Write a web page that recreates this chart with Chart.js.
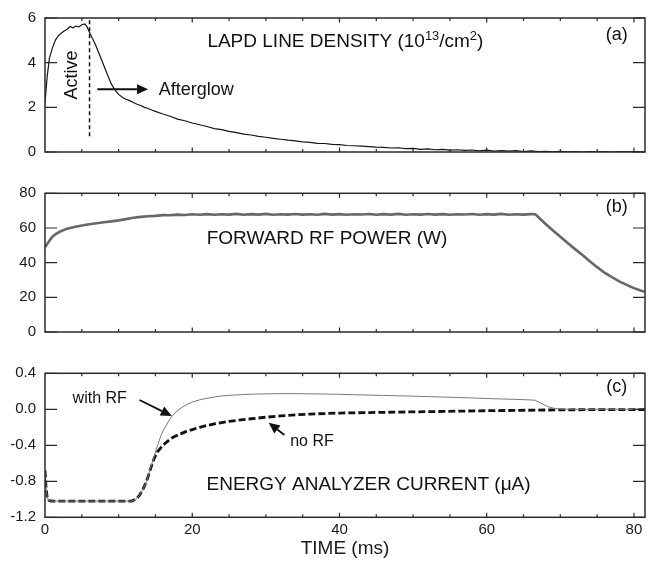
<!DOCTYPE html>
<html>
<head>
<meta charset="utf-8">
<script src="https://cdn.jsdelivr.net/npm/chart.js@4.4.1/dist/chart.umd.min.js"></script>
<style>
  html, body { margin: 0; padding: 0; background: #fff; }
  #wrap { position: relative; width: 654px; height: 563px; }
  canvas { position: absolute; left: 0; }
</style>
</head>
<body>
<div id="wrap">
  <canvas id="chartA" width="654" height="170" style="top:0px"></canvas>
  <canvas id="chartB" width="654" height="180" style="top:170px"></canvas>
  <canvas id="chartC" width="654" height="213" style="top:350px"></canvas>
</div>
<script>
// ---- data ----
const xLabelTicks = [0, 20, 40, 60, 80];
const densityTicks = [0, 2, 4, 6];
const powerTicks = [0, 20, 40, 60, 80];
const currentTicks = [-1.2, -0.8, -0.4, 0.0, 0.4];

// (a) line density, 10^13/cm^2
const densityTime = [0, 0.3, 0.6, 1.0, 1.4, 1.8, 2.2, 2.6, 3.0, 3.4, 3.8, 4.2, 4.6, 5.0, 5.4, 5.7,
  6.0, 6.4, 6.8, 7.2, 7.6, 8.0, 8.5, 9.0, 9.5, 10.0, 10.5, 11, 11.5, 12, 12.5, 13, 13.5, 14, 14.5, 15,
  16, 17, 18, 19, 20, 21, 22, 23, 24, 25, 26, 27, 28, 29, 30, 31, 32, 33, 34, 35, 36, 37, 38, 39, 40,
  41, 42, 43, 44, 45, 46, 47, 48, 49, 50, 51, 52, 53, 54, 55, 56, 57, 58, 59, 60, 61, 62, 63, 64, 65,
  66, 67, 68, 69, 70, 71, 72, 73, 74, 75, 76, 77, 78, 79, 80, 81, 81.5];
const densityValues = [2.2, 3.4, 4.2, 4.65, 5.0, 5.2, 5.32, 5.42, 5.5, 5.62, 5.56, 5.64, 5.6, 5.7, 5.73, 5.62,
  5.38, 5.12, 4.85, 4.52, 4.2, 3.86, 3.45, 3.05, 2.78, 2.58, 2.45, 2.36, 2.3, 2.22, 2.14, 2.08, 2.0, 1.95, 1.88, 1.82,
  1.7, 1.6, 1.47, 1.4, 1.3, 1.22, 1.14, 1.05, 1.0, 0.92, 0.87, 0.8, 0.76, 0.7, 0.66, 0.61, 0.57, 0.53, 0.5, 0.45, 0.43, 0.39, 0.38, 0.34, 0.33,
  0.29, 0.28, 0.26, 0.24, 0.22, 0.21, 0.18, 0.19, 0.15, 0.16, 0.12, 0.14, 0.1, 0.12, 0.08, 0.1, 0.07, 0.09, 0.05, 0.08, 0.04, 0.06, 0.04, 0.06, 0.02,
  0.05, 0.02, 0.03, 0.01, 0.03, 0.01, 0.02, 0.0, 0.02, 0.01, 0.02, 0.0, 0.02, 0.01, 0.02, 0.0, 0.02];

// (b) forward RF power, W
const powerTime = [0, 0.5, 1, 1.5, 2, 3, 4, 5, 6, 7, 8, 9, 10, 11, 12, 13, 14, 15, 16, 17, 18, 19, 20,
  21, 22, 23, 24, 25, 26, 27, 28, 29, 30, 31, 32, 33, 34, 35, 36, 37, 38, 39, 40, 41, 42, 43, 44, 45,
  46, 47, 48, 49, 50, 51, 52, 53, 54, 55, 56, 57, 58, 59, 60, 61, 62, 63, 64, 65, 66, 66.6,
  67, 68, 69, 70, 71, 72, 73, 74, 75, 76, 77, 78, 79, 80, 81, 81.5];
const powerValues = [48.9, 52.0, 55.0, 56.6, 57.8, 59.6, 60.6, 61.4, 62.1, 62.7, 63.3, 63.8, 64.4, 65.1, 65.9, 66.4, 66.8, 67.0, 67.4, 67.3, 67.7, 67.5, 67.9,
  67.6, 68.0, 67.6, 67.9, 67.7, 68.1, 67.6, 68.0, 67.7, 68.1, 67.6, 67.9, 67.7, 68.1, 67.7, 67.9, 67.6, 68.1, 67.7, 68.0, 67.6, 67.9, 67.8, 68.1, 67.6,
  68.0, 67.7, 68.1, 67.6, 67.9, 67.7, 68.1, 67.7, 68.0, 67.6, 67.9, 67.8, 68.1, 67.6, 68.0, 67.7, 68.1, 67.6, 67.9, 67.7, 68.0, 67.9,
  66.3, 62.3, 58.6, 54.9, 51.3, 47.8, 44.4, 40.8, 37.4, 34.2, 31.6, 29.2, 27.2, 25.3, 23.8, 23.2];

// (c) energy analyzer current, uA
const withRfTime = [0, 0.15, 0.3, 0.5, 0.8, 2, 4, 6, 8, 10, 11, 11.8, 12.3, 12.8, 13.3, 13.8, 14.3, 14.8,
  15.3, 15.8, 16.3, 16.8, 17.3, 17.8, 18.5, 19.2, 20, 21, 22, 23, 24, 25, 26, 28, 30, 32, 34, 36, 38, 40,
  42, 44, 46, 48, 50, 52, 54, 56, 58, 60, 62, 64, 66, 66.6, 67.2, 67.8, 68.5, 69.2, 70, 72, 74, 76, 78, 80, 81.5];
const withRfValues = [-0.68, -0.88, -0.98, -1.01, -1.02, -1.02, -1.02, -1.02, -1.02, -1.02, -1.02, -1.02, -1.0, -0.96, -0.89, -0.8, -0.66, -0.53,
  -0.4, -0.28, -0.2, -0.13, -0.07, -0.03, 0.015, 0.05, 0.08, 0.105, 0.122, 0.137, 0.148, 0.155, 0.16, 0.168, 0.172, 0.174, 0.174, 0.172, 0.17, 0.166,
  0.162, 0.158, 0.154, 0.15, 0.146, 0.141, 0.136, 0.131, 0.126, 0.12, 0.115, 0.11, 0.104, 0.1, 0.075, 0.048, 0.025, 0.01, 0.003, 0.0, 0.0, 0.001, 0.0, 0.0, 0.0];

const noRfTime = [0, 0.15, 0.3, 0.5, 0.8, 2, 4, 6, 8, 10, 11, 11.8, 12.3, 12.8, 13.3, 13.8, 14.3, 14.8,
  15.3, 15.8, 16.3, 16.8, 17.3, 17.8, 18.5, 19.2, 20, 21, 22, 23, 24, 25, 26, 28, 30, 32, 34, 36, 38, 40,
  44, 48, 52, 56, 60, 64, 68, 72, 76, 80, 81.5];
const noRfValues = [-0.68, -0.88, -0.98, -1.01, -1.02, -1.02, -1.02, -1.02, -1.02, -1.02, -1.02, -1.02, -1.0, -0.96, -0.89, -0.8, -0.67, -0.55,
  -0.47, -0.42, -0.38, -0.345, -0.315, -0.295, -0.27, -0.245, -0.225, -0.2, -0.18, -0.163, -0.148, -0.135, -0.124, -0.105, -0.088, -0.074, -0.062, -0.053, -0.047, -0.042,
  -0.036, -0.031, -0.026, -0.021, -0.016, -0.012, -0.008, -0.005, -0.004, -0.003, -0.003];

const X_MAX = 81.5;
const FONT = "'Liberation Sans', Arial, sans-serif";
Chart.defaults.font.family = FONT;
Chart.defaults.color = '#1a1a1a';

function toPoints(ts, vs) {
  return ts.map((t, i) => ({ x: t, y: vs[i] }));
}

// frame with inward ticks on all four sides
const frameTicks = {
  id: 'frameTicks',
  afterDatasetsDraw(chart) {
    const { ctx, chartArea: a, scales: { x, y } } = chart;
    ctx.save();
    ctx.strokeStyle = '#2a2a2a';
    ctx.lineWidth = 1.5;
    ctx.strokeRect(a.left, a.top, a.right - a.left, a.bottom - a.top);
    ctx.lineWidth = 1.2;
    ctx.beginPath();
    for (let t = 5; t < X_MAX; t += 5) {
      const px = x.getPixelForValue(t);
      const len = t % 20 === 0 ? 4.5 : 3;
      ctx.moveTo(px, a.top); ctx.lineTo(px, a.top + len);
      ctx.moveTo(px, a.bottom); ctx.lineTo(px, a.bottom - len);
    }
    y.ticks.forEach(tk => {
      const py = y.getPixelForValue(tk.value);
      ctx.moveTo(a.left, py); ctx.lineTo(a.left + 12, py);
      ctx.moveTo(a.right, py); ctx.lineTo(a.right - 12, py);
    });
    ctx.stroke();
    ctx.restore();
  }
};

function arrow(ctx, x1, y1, x2, y2, head, half) {
  const ang = Math.atan2(y2 - y1, x2 - x1);
  const bx = x2 - head * Math.cos(ang), by = y2 - head * Math.sin(ang);
  ctx.beginPath(); ctx.moveTo(x1, y1); ctx.lineTo(bx, by); ctx.stroke();
  ctx.beginPath();
  ctx.moveTo(x2, y2);
  ctx.lineTo(bx + half * Math.sin(ang), by - half * Math.cos(ang));
  ctx.lineTo(bx - half * Math.sin(ang), by + half * Math.cos(ang));
  ctx.closePath(); ctx.fill();
}

// text with superscript parts, centred on cx
function richText(ctx, parts, cx, baseY, size) {
  const supSize = size * 0.68;
  let w = 0;
  parts.forEach(p => {
    ctx.font = (p[1] ? supSize : size) + 'px ' + FONT;
    w += ctx.measureText(p[0]).width;
  });
  let x = cx - w / 2;
  ctx.textAlign = 'left';
  parts.forEach(p => {
    ctx.font = (p[1] ? supSize : size) + 'px ' + FONT;
    ctx.fillText(p[0], x, p[1] ? baseY - size * 0.36 : baseY);
    x += ctx.measureText(p[0]).width;
  });
}

function notesPlugin(draw) {
  return {
    id: 'notes',
    afterDraw(chart) {
      const { ctx, scales: { x, y } } = chart;
      ctx.save();
      ctx.fillStyle = '#111';
      ctx.strokeStyle = '#111';
      ctx.textBaseline = 'alphabetic';
      draw(ctx, t => x.getPixelForValue(t), v => y.getPixelForValue(v));
      ctx.restore();
    }
  };
}

function makePanel(id, datasets, yMin, yMax, yTicks, yFmt, padTop, showX, notes) {
  const xScale = {
    type: 'linear', min: 0, max: X_MAX, display: showX,
    grid: { display: false, drawTicks: false },
    border: { display: false }
  };
  if (showX) {
    Object.assign(xScale, {
      afterBuildTicks: s => { s.ticks = xLabelTicks.map(v => ({ value: v })); },
      afterFit: s => { s.height = 45.7; },
      ticks: { padding: 4, font: { size: 15 }, maxRotation: 0, autoSkip: false, callback: v => String(v) },
      title: { display: true, text: 'TIME (ms)', font: { size: 19 }, padding: { top: 0, bottom: 3 } }
    });
  }
  return new Chart(document.getElementById(id), {
    type: 'line',
    data: { datasets: datasets },
    options: {
      responsive: false,
      animation: false,
      parsing: true,
      layout: { padding: { left: 0, right: 9, top: padTop, bottom: showX ? 0 : 13 } },
      plugins: { legend: { display: false }, tooltip: { enabled: false } },
      elements: { point: { radius: 0 }, line: { tension: 0 } },
      scales: {
        x: xScale,
        y: {
          min: yMin, max: yMax,
          afterBuildTicks: s => { s.ticks = yTicks.map(v => ({ value: v })); },
          afterFit: s => { s.width = 45; },
          grid: { display: false, drawTicks: false },
          border: { display: false },
          ticks: { padding: 9, font: { size: 15 }, callback: yFmt }
        }
      }
    },
    plugins: [frameTicks, notesPlugin(notes)]
  });
}

// (a) line density
makePanel('chartA', [{
  data: toPoints(densityTime, densityValues),
  borderColor: '#151515', borderWidth: 1.2, fill: false
}], 0, 6, densityTicks, v => String(v), 14, false, (ctx, px, py) => {
  richText(ctx, [['LAPD LINE DENSITY (10', false], ['13', true], ['/cm', false], ['2', true], [')', false]],
    px(40.8), py(4.7), 19);
  ctx.font = '18px ' + FONT;
  ctx.textAlign = 'center';
  ctx.fillText('(a)', px(77.66), py(5.0));
  // active / afterglow boundary
  ctx.lineWidth = 1.5;
  ctx.setLineDash([4, 3]);
  ctx.beginPath(); ctx.moveTo(px(6.05), py(5.9)); ctx.lineTo(px(6.05), py(0.62)); ctx.stroke();
  ctx.setLineDash([]);
  ctx.save();
  ctx.translate(px(3.68), py(3.45));
  ctx.rotate(-Math.PI / 2);
  ctx.textBaseline = 'middle';
  ctx.fillText('Active', 0, 0);
  ctx.restore();
  ctx.lineWidth = 1.8;
  arrow(ctx, px(7.1), py(2.81), px(14.0), py(2.81), 11, 5);
  ctx.textAlign = 'left';
  ctx.fillText('Afterglow', px(15.46), py(2.56));
});

// (b) forward RF power
makePanel('chartB', [{
  data: toPoints(powerTime, powerValues),
  borderColor: '#676767', borderWidth: 2.6, fill: false
}], 0, 80, powerTicks, v => String(v), 23.3, false, (ctx, px, py) => {
  ctx.font = '19px ' + FONT;
  ctx.textAlign = 'center';
  ctx.fillText('FORWARD RF POWER (W)', px(38.3), py(50.7));
  ctx.font = '18px ' + FONT;
  ctx.fillText('(b)', px(77.66), py(69));
});

// (c) energy analyzer current
makePanel('chartC', [{
  data: toPoints(withRfTime, withRfValues),
  borderColor: '#7a7a7a', borderWidth: 1, fill: false
}, {
  data: toPoints(noRfTime, noRfValues),
  borderColor: '#111', borderWidth: 2.8, borderDash: [7, 3], fill: false
}], -1.2, 0.4, currentTicks, v => v.toFixed(1), 23.3, true, (ctx, px, py) => {
  ctx.font = '19px ' + FONT;
  ctx.textAlign = 'center';
  ctx.fillText('ENERGY ANALYZER CURRENT (\u03bcA)', px(43.95), py(-0.897));
  ctx.font = '18px ' + FONT;
  ctx.fillText('(c)', px(77.66), py(0.192));
  ctx.font = '16px ' + FONT;
  ctx.textAlign = 'left';
  ctx.fillText('with RF', px(3.75), py(0.07));
  ctx.fillText('no RF', px(33.3), py(-0.413));
  ctx.lineWidth = 1.8;
  arrow(ctx, px(12.84), py(0.103), px(17.23), py(-0.074), 11, 5);
  arrow(ctx, px(32.52), py(-0.286), px(30.39), py(-0.149), 11, 5);
});
</script>
</body>
</html>
